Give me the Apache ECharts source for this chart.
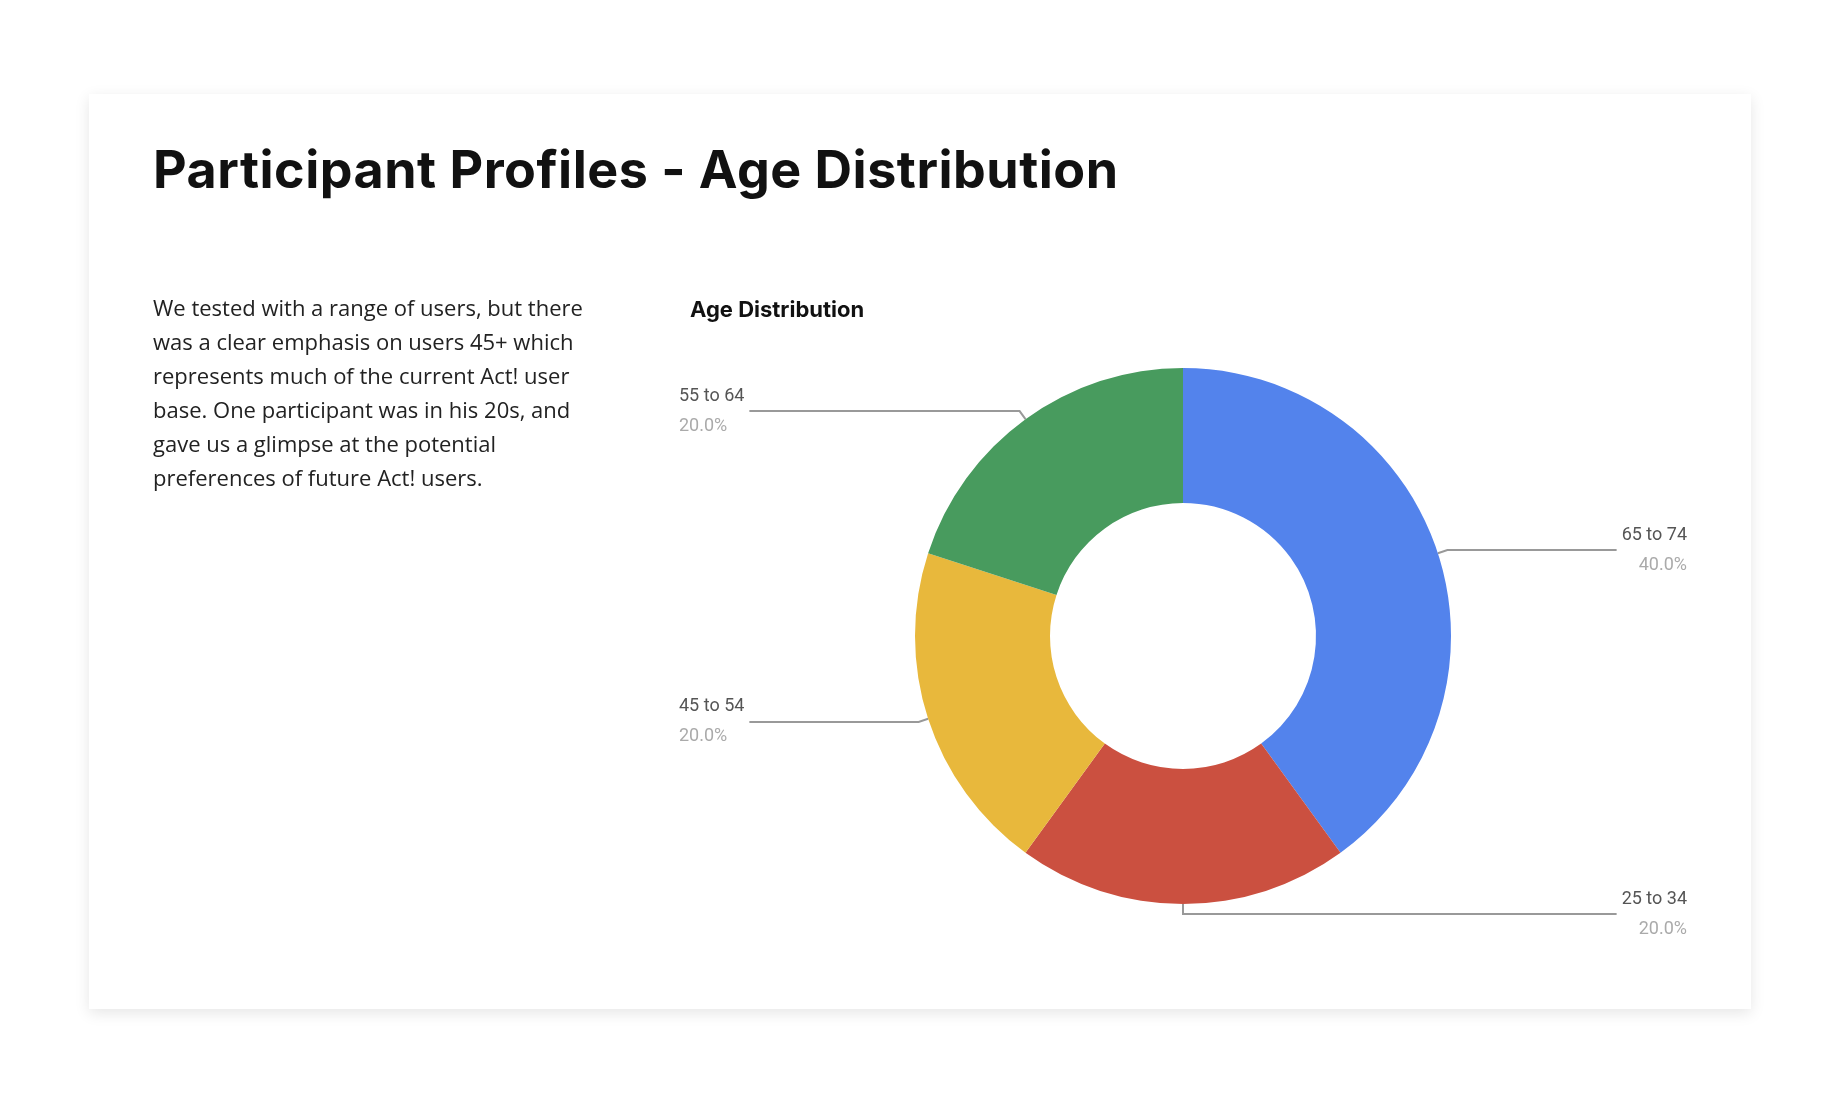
<!DOCTYPE html>
<html>
<head>
<meta charset="utf-8">
<script src="https://cdn.jsdelivr.net/npm/echarts@6/dist/echarts.min.js"></script>
<style>
  html, body { margin: 0; padding: 0; background: #fff; }
  #card {
    position: absolute; left: 89px; top: 94px; width: 1662px; height: 915px;
    background: #fff; box-shadow: 0 4px 14px rgba(0,0,0,0.10);
  }
  #title {
    position: absolute; left: 153px; top: 138px; margin: 0;
    font-family: Inter, "Open Sans", sans-serif; font-weight: 700; font-size: 52px;
    color: #111; letter-spacing: 0.5px;
  }
  #text {
    position: absolute; left: 153px; top: 290px; width: 440px; margin: 0;
    font-family: "Open Sans", sans-serif; font-size: 22px; line-height: 34px; color: #222;
  }
  #container { position: absolute; left: 0; top: 0; width: 1840px; height: 1100px; }
</style>
</head>
<body>
<div id="card"></div>
<div id="container"></div>
<h1 id="title">Participant Profiles - Age Distribution</h1>
<p id="text">We tested with a range of users, but there was a clear emphasis on users 45+ which represents much of the current Act! user base. One participant was in his 20s, and gave us a glimpse at the potential preferences of future Act! users.</p>
<script>
// 年龄分布数据
var ageGroups = ['65 to 74', '25 to 34', '45 to 54', '55 to 64'];
var ageCounts = [2, 1, 1, 1];
var ageColors = ['#5383EC', '#CB5040', '#E8B83C', '#489B5E'];

var myChart = echarts.init(document.getElementById('container'));

var pieData = ageGroups.map(function (name, i) {
    return { name: name, value: ageCounts[i], itemStyle: { color: ageColors[i] } };
});

var option = {
    backgroundColor: 'transparent',
    title: {
        text: 'Age Distribution',
        left: 685,
        top: 294,
        textStyle: { fontFamily: 'Inter, sans-serif', fontWeight: 'bold', fontSize: 22, color: '#111' }
    },
    series: [{
        type: 'pie',
        left: 679,
        right: 153,
        top: 300,
        height: 672,
        center: ['50%', '50%'],
        radius: [133, 268],
        startAngle: 90,
        clockwise: true,
        silent: true,
        data: pieData,
        label: {
            alignTo: 'edge',
            edgeDistance: 0,
            formatter: function (p) {
                return '{a|' + p.name + '}\n{b|' + p.percent.toFixed(1) + '%}';
            },
            rich: {
                a: { fontFamily: 'Roboto', fontSize: 18, color: '#555', lineHeight: 30 },
                b: { fontFamily: 'Roboto', fontSize: 18, color: '#aaa', lineHeight: 30 }
            }
        },
        labelLine: {
            show: true,
            length: 10,
            length2: 20,
            lineStyle: { color: '#999', width: 2 }
        }
    }]
};
myChart.setOption(option);
</script>
</body>
</html>
